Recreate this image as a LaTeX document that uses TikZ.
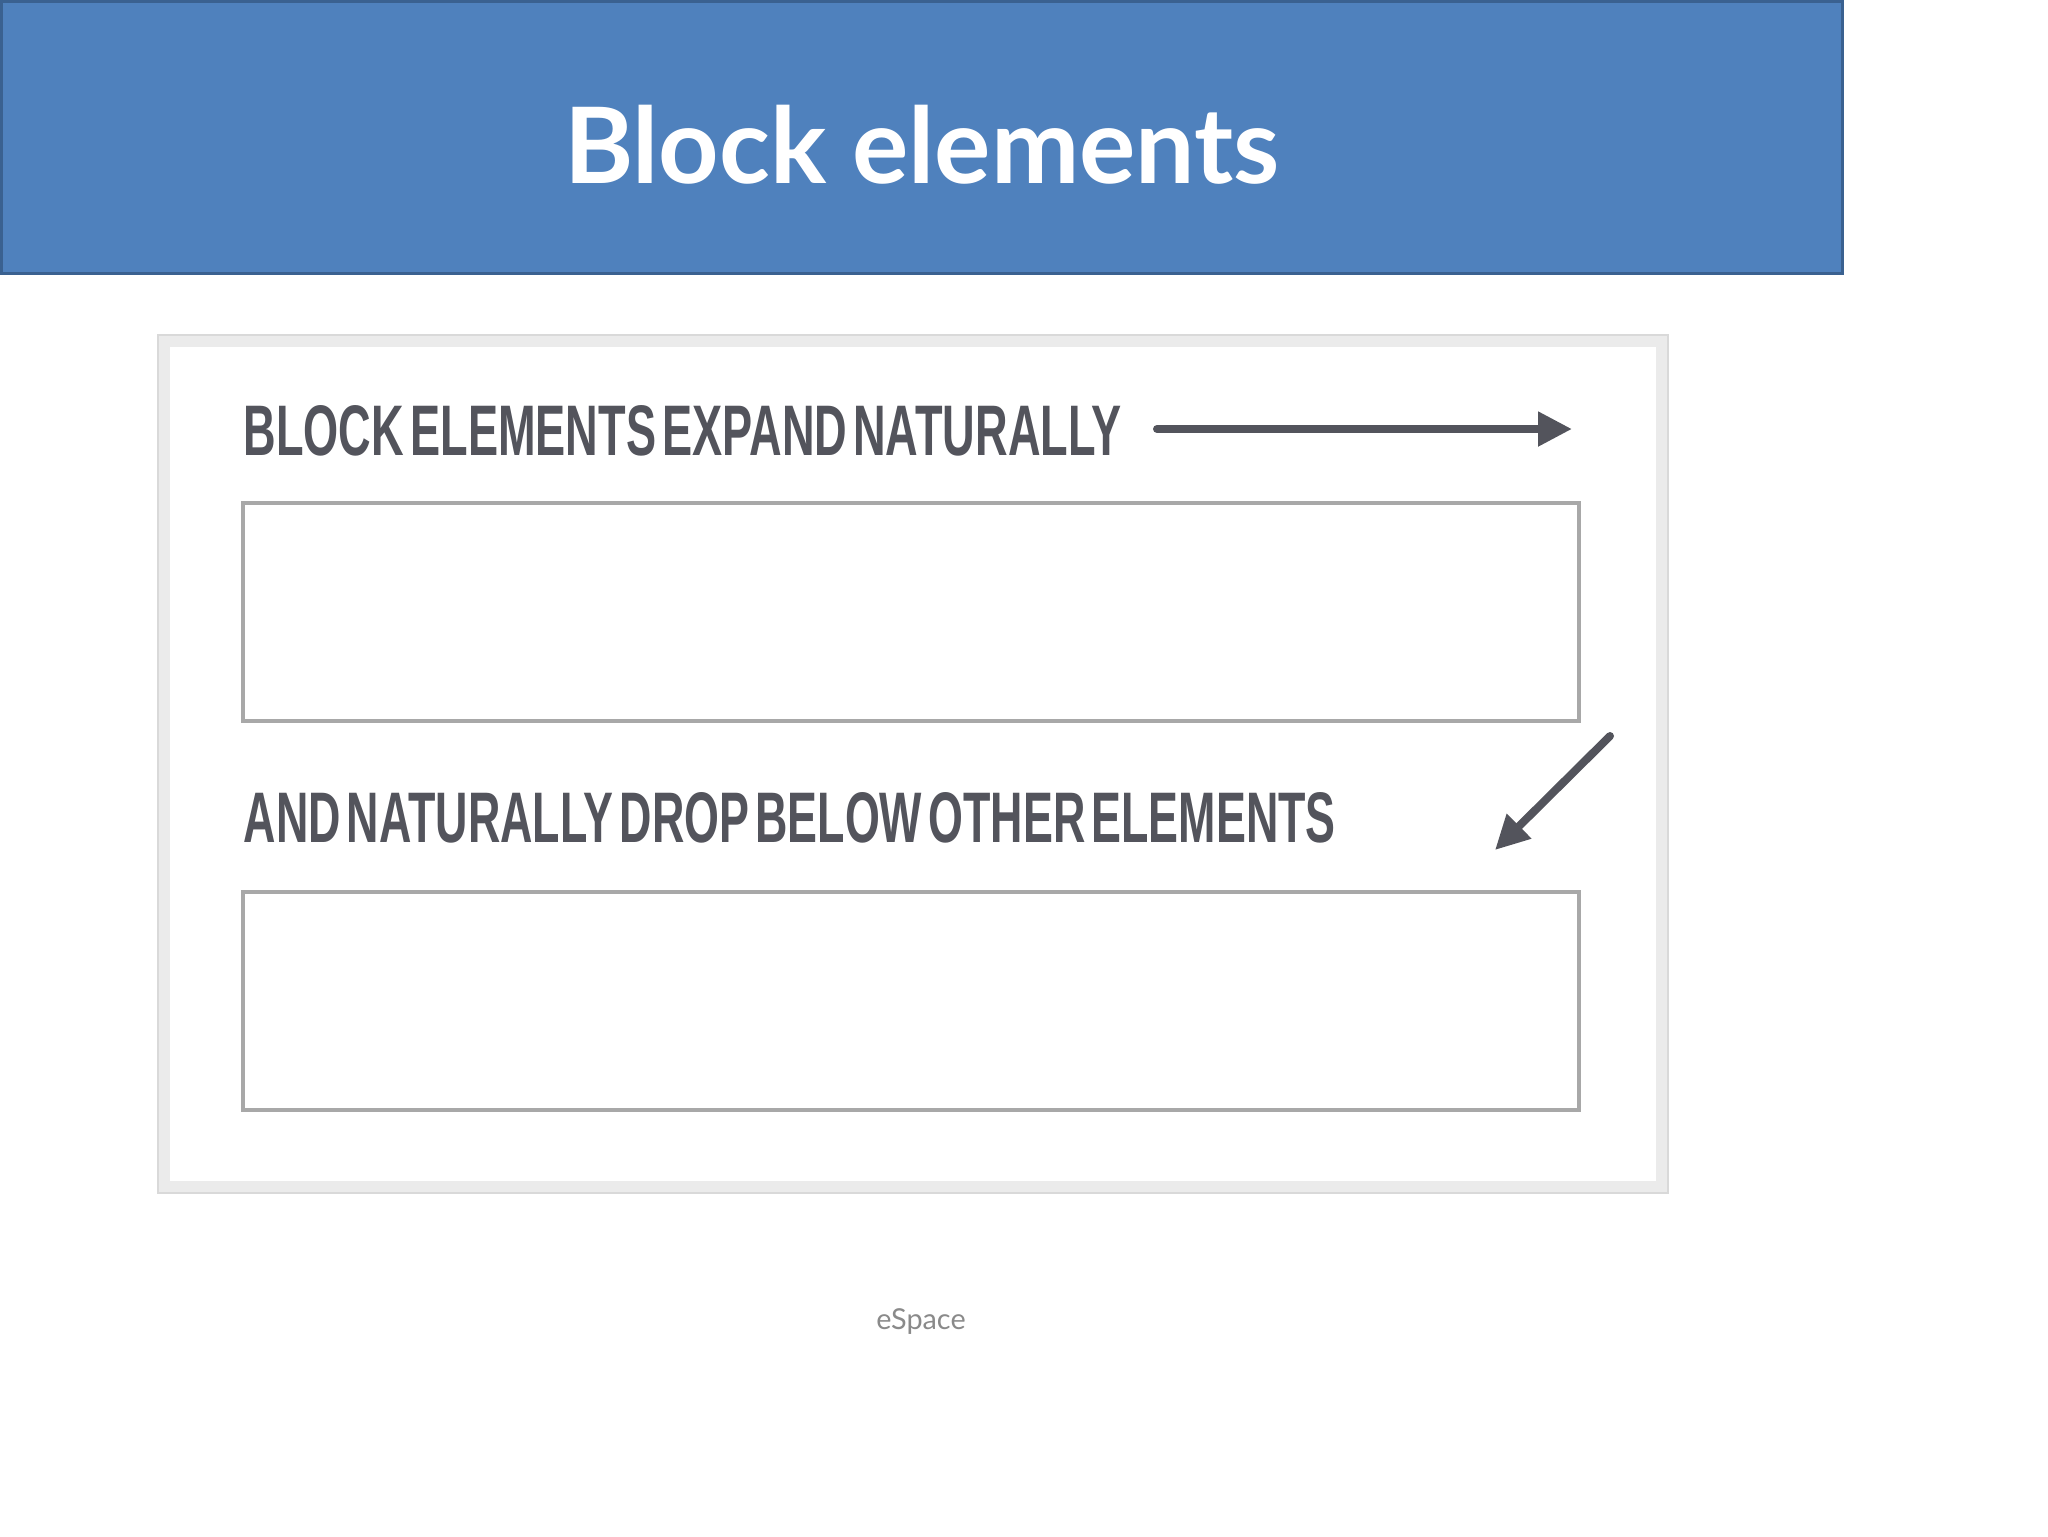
\documentclass[tikz,border=0pt]{standalone}
\usepackage{fontspec}
\setmainfont{Lato}
\newfontfamily\gothic[WordSpace=0.5]{Liberation Sans}
\usepackage{xcolor}
\usetikzlibrary{arrows.meta}
\definecolor{slideblue}{HTML}{4F81BD}
\definecolor{slideedge}{HTML}{3A6190}
\definecolor{inkgray}{HTML}{53545C}
\definecolor{boxgray}{HTML}{A8A8A8}
\definecolor{framegray}{HTML}{EBEBEB}
\definecolor{notegray}{HTML}{8A8A8A}
\begin{document}
\begin{tikzpicture}[
				x=0.1mm, y=-0.1mm,
				Lbl/.style = {anchor=base west, inner sep=0pt, text=inkgray},% the two headings
				Box/.style = {rectangle, draw=boxgray, line width=0.4mm,
					minimum width=133.6mm, minimum height=21.8mm,
					anchor=north west, outer sep=0pt},
				Arr/.style = {inkgray, line width=0.8mm, line cap=round,
					-{Triangle[length=3.4mm, width=3.3mm]}},
				]
				\useasboundingbox (0,0) rectangle (2048,1536);
				% title bar
				\draw[fill=slideblue, draw=slideedge, line width=0.3mm] (1.5,1.5) rectangle (1842,273);
				\node (title) [anchor=base, inner sep=0pt, text=white,
					font=\fontsize{30}{36}\selectfont\bfseries] at (922,183) {Block elements};
				% picture frame
				\draw[framegray, line width=1.2mm] (164,341) rectangle (1662,1187);
				\draw[black!15, line width=0.15mm] (158,335) rectangle (1668,1193);
				\node (head1) [Lbl] at (243,455)
					{\resizebox{87.8mm}{5mm}{\gothic\bfseries BLOCK ELEMENTS EXPAND NATURALLY}};
				\node (head2) [Lbl] at (243,842)
					{\resizebox{109.2mm}{5mm}{\gothic\bfseries AND NATURALLY DROP BELOW OTHER ELEMENTS}};
				\node (top) [Box] at (243,503) {};
				\node (bottom) [Box] at (243,892) {};
				% arrows
				\coordinate (r1) at (1157,429);
				\coordinate (r2) at (1572,429);
				\coordinate (d1) at (1610,736);
				\coordinate (d2) at (1495,850);
				\draw[Arr] (r1) -- (r2);
				\draw[Arr] (d1) -- (d2);
				\node (foot) [anchor=base, inner sep=0pt, text=notegray,
					font=\fontsize{8.2}{10}\selectfont] at (921,1329) {eSpace};
			\end{tikzpicture}
\end{document}
